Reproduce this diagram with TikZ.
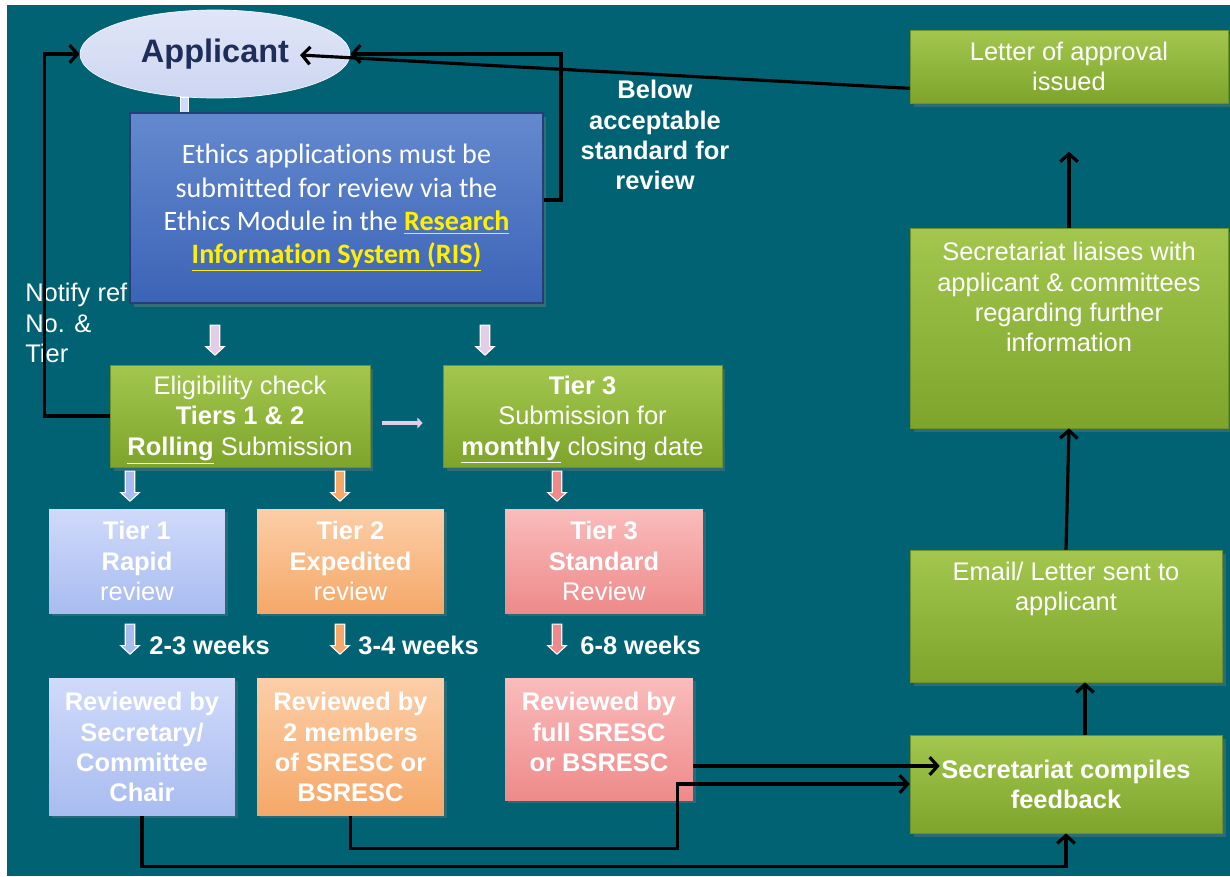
\documentclass[tikz,border=0pt]{standalone}
\usepackage{fontspec}
\setmainfont{Liberation Sans}
\newfontfamily\calibri[Ligatures=NoCommon]{Carlito}
\usepackage{tikz}
\usetikzlibrary{arrows.meta}
\usetikzlibrary{shapes.geometric,shapes.arrows}
\usetikzlibrary{positioning}
\usetikzlibrary{calc,shadows}

\definecolor{bgteal}{RGB}{0,98,114}
\definecolor{greentop}{RGB}{163,199,78}
\definecolor{greenbot}{RGB}{126,164,44}
\definecolor{greenedge}{RGB}{110,145,40}
\definecolor{risblue}{RGB}{72,116,198}
\definecolor{risdark}{RGB}{60,100,182}
\definecolor{risedge}{RGB}{38,62,118}
\definecolor{risyellow}{RGB}{255,240,0}
\definecolor{applfill}{RGB}{205,214,242}
\definecolor{appltext}{RGB}{31,45,90}
\definecolor{tonetop}{RGB}{208,218,250}
\definecolor{tonebot}{RGB}{168,188,240}
\definecolor{ttwotop}{RGB}{252,206,168}
\definecolor{ttwobot}{RGB}{245,168,104}
\definecolor{tthreetop}{RGB}{250,188,188}
\definecolor{tthreebot}{RGB}{238,138,138}
\definecolor{arrlav}{RGB}{228,205,232}

\tikzset{
	boxtext/.style={text=white, align=center, inner sep=0pt,
		font=\fontsize{14.5}{17.2}\selectfont},
	boldtext/.style={boxtext, font=\bfseries\fontsize{14.5}{17.2}\selectfont},
	greenbox/.style={draw=greenedge, line width=.4pt, top color=greentop,
		bottom color=greenbot, boxtext,
		drop shadow={shadow xshift=2pt, shadow yshift=-2pt, opacity=.35}},
	tierbox/.style 2 args={draw=none, top color=#1, bottom color=#2, boxtext,
		drop shadow={shadow xshift=1.5pt, shadow yshift=-1.5pt, opacity=.3}},
	risbox/.style={draw=risedge, line width=1.2pt, top color=risblue!85!white,
		bottom color=risdark, text=white, align=center,
		font=\calibri\fontsize{16}{19}\selectfont,
		drop shadow={shadow xshift=2pt, shadow yshift=-2pt, opacity=.4}},
	appl/.style={ellipse, draw=white!80!applfill, line width=.4pt,
		top color=applfill!60!white, bottom color=applfill, text=appltext,
		font=\bfseries\fontsize{18.5}{20}\selectfont},
	blockarrow/.style={single arrow, shape border rotate=270, draw=white,
		line width=.6pt, fill=#1, minimum height=0.6cm, inner sep=2.4pt,
		single arrow head extend=0.09cm, single arrow tip angle=95},
	conn/.style={draw=black, line width=1.8pt, ->},
	lavconn/.style={draw=arrlav, line width=2.6pt, -{Triangle[length=3pt,width=6pt]}},
}

\begin{document}
\begin{tikzpicture}[x=0.02cm, y=-0.02cm, >={Straight Barb[length=4.5pt,width=10pt]}]
	\useasboundingbox (0,0) rectangle (1230,876);
	\fill[white] (0,0) rectangle (1230,876);
	\fill[bgteal] (7,5) rectangle (1230,876);
	% applicant and submission
	\node[appl, minimum width=5.4cm, minimum height=1.76cm] (appl) at (215,54) {Applicant};
	\fill[tonetop, draw=white, line width=.4pt] (180,97) rectangle (188,113);
	\node[boxtext, anchor=west, align=left] (notify) at (25,323) {Notify ref\\No. \&\\Tier};
	\node[risbox, minimum width=8.26cm, minimum height=3.8cm] (ris) at (336.5,208)
		{Ethics applications must be\\submitted for review via the\\Ethics Module in the
		\textbf{\textcolor{risyellow}{\underline{Research}}}\\
		\textbf{\textcolor{risyellow}{\underline{Information System (RIS)}}}};
	\node[boldtext] (below) at (655,135) {Below\\acceptable\\standard for\\review};
	%
	\node[blockarrow=arrlav] (arone) at (215,338) {};
	\node[blockarrow=arrlav] (artwo) at (485,338) {};
	\node[greenbox, minimum width=5.2cm, minimum height=2.04cm] (elig) at (240,416) {};
	\node[boxtext] (eligtxt) at (240,420)
		{Eligibility check\\\textbf{Tiers 1 \& 2}\\\textbf{\underline{Rolling}} Submission};
	\node[greenbox, minimum width=5.58cm, minimum height=2.04cm] (tsub) at (582.5,416) {};
	\node[boxtext] (tsubtxt) at (582.5,420)
		{\textbf{Tier 3}\\Submission for\\\textbf{\underline{monthly}} closing date};
	\draw[lavconn, shorten <=0.24cm, shorten >=0.4cm] ($(elig.east)+(0,7)$) -- ($(tsub.west)+(0,7)$);
	% tiers
	\node[blockarrow=tonebot] (arthree) at (130,484) {};
	\node[blockarrow=ttwobot] (arfour) at (340,484) {};
	\node[blockarrow=tthreebot] (arfive) at (557,484) {};
	\node[tierbox={tonetop}{tonebot}, minimum width=3.52cm, minimum height=2.08cm] (tone) at (137,561)
		{\textbf{Tier 1}\\\textbf{Rapid}\\review};
	\node[tierbox={ttwotop}{ttwobot}, minimum width=3.74cm, minimum height=2.08cm] (ttwo) at (350.5,561)
		{\textbf{Tier 2}\\\textbf{Expedited}\\review};
	\node[tierbox={tthreetop}{tthreebot}, minimum width=3.96cm, minimum height=2.08cm] (tthree) at (604,561)
		{\textbf{Tier 3}\\\textbf{Standard}\\Review};
	%
	\node[blockarrow=tonebot] (arsix) at (130,637) {};
	\node[blockarrow=ttwobot] (arseven) at (340,637) {};
	\node[blockarrow=tthreebot] (areight) at (557,637) {};
	\node[boldtext, anchor=west] (wone) at (149,645) {2-3 weeks};
	\node[boldtext, anchor=west] (wtwo) at (358,645) {3-4 weeks};
	\node[boldtext, anchor=west] (wthree) at (580,645) {6-8 weeks};
	%
	\node[tierbox={tonetop}{tonebot}, boldtext, minimum width=3.72cm, minimum height=2.74cm] (rone) at (142,747)
		{Reviewed by\\Secretary/\\Committee\\Chair};
	\node[tierbox={ttwotop}{ttwobot}, boldtext, minimum width=3.74cm, minimum height=2.74cm] (rtwo) at (350.5,747)
		{Reviewed by\\2 members\\of SRESC or\\BSRESC};
	\node[tierbox={tthreetop}{tthreebot}, minimum width=3.76cm, minimum height=2.44cm] (rthree) at (599,739) {};
	\node[boldtext] (rthreetxt) at (599,732) {Reviewed by\\full SRESC\\or BSRESC};
	% right column
	\node[greenbox, minimum width=6.36cm, minimum height=1.46cm] (letter) at (1069,66.5)
		{Letter of approval\\issued};
	\node[greenbox, minimum width=6.36cm, minimum height=4cm] (liaise) at (1069,328) {};
	\node[boxtext] (liaisetxt) at (1069,297)
		{Secretariat liaises with\\applicant \& committees\\regarding further\\information};
	\node[greenbox, minimum width=6.24cm, minimum height=2.64cm] (email) at (1066,616) {};
	\node[boxtext] (emailtxt) at (1066,589) {Email/ Letter sent to\\applicant};
	\node[greenbox, boldtext, minimum width=6.24cm, minimum height=1.96cm] (comp) at (1066,784)
		{Secretariat compiles\\feedback};
	% connectors
	\coordinate (applin) at (300,55);
	\coordinate (compin) at ($(comp.west)+(30,-18)$);
	\draw[conn] ($(letter.south west)+(0,-15)$) -- (applin);
	\draw[conn] ($(ris.east)+(0,-8)$) -- ++(17,0) |- (appl.east);
	\draw[conn] (elig.west) -- ++(-65,0) |- (appl.west);
	\draw[conn] ($(rthree.east)+(0,27)$) -- (compin);
	\draw[conn] (rtwo.south) -- ++(0,33) -| ($(comp.west)+(-232,0)$) -- (comp.west);
	\draw[conn] (rone.south) -- ++(0,51) -| (comp.south);
	\draw[conn] ($(comp.north)+(19,0)$) -- ($(email.south)+(19,0)$);
	\draw[conn] (email.north) -- (liaise.south);
	\draw[conn] (liaise.north) -- ++(0,-76);
\end{tikzpicture}
\end{document}
